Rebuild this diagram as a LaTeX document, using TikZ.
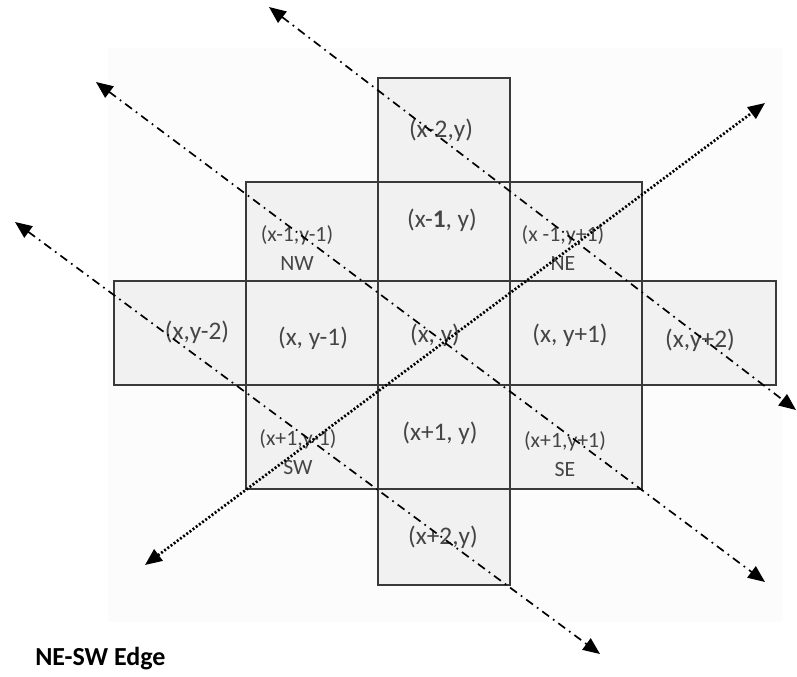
\documentclass[tikz,border=0pt]{standalone}
\usepackage{fontspec}
\setmainfont{Carlito}
\usetikzlibrary{arrows.meta}
\definecolor{cellfill}{HTML}{F1F1F1}
\definecolor{cellline}{HTML}{3A3A3A}
\definecolor{labeltext}{HTML}{454545}
\definecolor{backsoft}{HTML}{FCFCFC}
\tikzset{
  cell/.style={draw=cellline,fill=cellfill,line width=1.1pt,minimum width=3.3cm,inner sep=0pt,outer sep=0pt},
  tallrow/.style={cell,minimum height=2.6cm},
  midrow/.style={cell,minimum height=2.475cm},
  lowrow/.style={cell,minimum height=2.4cm},
  lbl/.style={text=labeltext,font=\fontsize{18}{21}\selectfont,align=center,inner sep=0pt},
  cornerlbl/.style={lbl,font=\fontsize{15.5}{21}\selectfont},
  dashdot/.style={{Triangle[length=12pt,width=10pt]}-{Triangle[length=12pt,width=10pt]},line width=1.2pt,dash pattern=on 6pt off 3.5pt on 1.2pt off 3.5pt},
  dotline/.style={{Triangle[length=12pt,width=10pt]}-{Triangle[length=12pt,width=10pt]},line width=1.9pt,dash pattern=on 1.4pt off 1.4pt}
}

\begin{document}
\begin{tikzpicture}[x=0.025cm,y=-0.025cm]
  \useasboundingbox (0,0) rectangle (797,677);
  \fill[backsoft] (108,48) rectangle (783,622);

  % cells of the cross
  \node[tallrow] (xm2) at (444,130) {};
  \node[midrow] (nw) at (312,231.5) {};
  \node[midrow] (xm1) at (444,231.5) {};
  \node[midrow] (ne) at (576,231.5) {};
  \node[tallrow] (ym2) at (180,333) {};
  \node[tallrow] (ym1) at (312,333) {};
  \node[tallrow] (xy) at (444,333) {};
  \node[tallrow] (yp1) at (576,333) {};
  \node[tallrow,minimum width=3.35cm] (yp2) at (709,333) {};
  \node[tallrow] (sw) at (312,437) {};
  \node[tallrow] (xp1) at (444,437) {};
  \node[tallrow] (se) at (576,437) {};
  \node[lowrow] (xp2) at (444,537) {};

  % labels
  \node[lbl] (xm2-t) at (441,130) {(x-2,y)};
  \node[lbl] (xm1-t) at (442,220) {(x-\textbf{1}, y)};
  \node[cornerlbl] (nw-t) at (297,248) {(x-1,y-1)\\NW};
  \node[cornerlbl] (ne-t) at (563,248) {(x -1,y+1)\\NE};
  \node[lbl] (ym2-t) at (197,332) {(x,y-2)};
  \node[lbl] (ym1-t) at (313,338) {(x, y-1)};
  \node[lbl] (xy-t) at (435,335) {(x, y)};
  \node[lbl] (yp1-t) at (570,335) {(x, y+1)};
  \node[lbl] (yp2-t) at (700,340) {(x,y+2)};
  \node[cornerlbl] (sw-t) at (298,452) {(x+1,y-1)\\SW};
  \node[lbl] (xp1-t) at (440,433) {(x+1, y)};
  \node[cornerlbl] (se-t) at (565,454) {(x+1,y+1)\\SE};
  \node[lbl] (xp2-t) at (443,537) {(x+2,y)};

  % edge directions
  \coordinate (a1) at (269,7);
  \coordinate (a2) at (796,410);
  \coordinate (b1) at (96,82);
  \coordinate (b2) at (765,582);
  \coordinate (c1) at (15,222);
  \coordinate (c2) at (600,654);
  \coordinate (d1) at (145,565);
  \coordinate (d2) at (765,103);
  \draw[dashdot] (a1) -- (a2);
  \draw[dashdot] (b1) -- (b2);
  \draw[dashdot] (c1) -- (c2);
  \draw[dotline] (d1) -- (d2);

  \node[anchor=base west,font=\fontsize{18.5}{21}\selectfont\bfseries,inner sep=0pt] (title) at (35,665) {NE-SW Edge};
\end{tikzpicture}
\end{document}
